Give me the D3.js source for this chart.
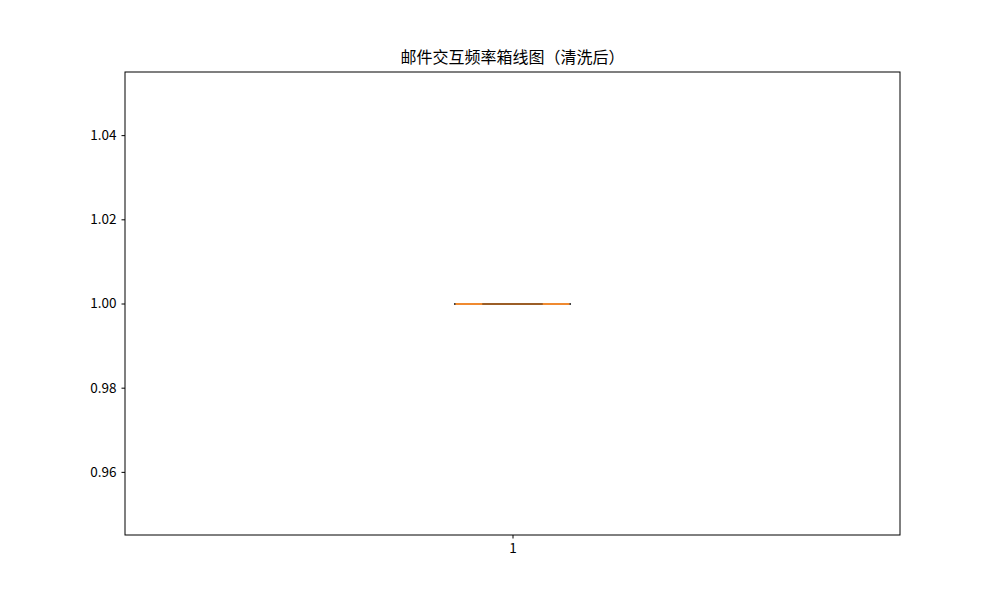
<!DOCTYPE html>
<html><head><meta charset="utf-8">
<script src="https://cdn.jsdelivr.net/npm/d3@7"></script>
<style>body{margin:0;background:#fff;}text{font-family:"Noto Sans CJK SC","DejaVu Sans",sans-serif;}</style>
</head><body><svg id="c" width="1000" height="600"></svg>
<script>
const categories = ["1"];
const q1Values = [1.0];
const medianValues = [1.0];
const q3Values = [1.0];
const whiskerLow = [1.0];
const whiskerHigh = [1.0];
const yTicks = [0.96, 0.98, 1.00, 1.02, 1.04];
const titleText = "邮件交互频率箱线图（清洗后）";

const svg = d3.select("#c");
const L = 125, R = 900, T = 72, B = 535;
const x = d3.scaleLinear().domain([0.5, 1.5]).range([L, R]);
const y = d3.scaleLinear().domain([0.945, 1.055]).range([B, T]);
const boxHalf = 0.039, capHalf = 0.0755;

svg.append("text").attr("x", (L + R) / 2).attr("y", 63).attr("text-anchor", "middle")
  .attr("font-size", 16).attr("fill", "#000").text(titleText);

const yAxis = svg.append("g").attr("transform", `translate(${L},0)`)
  .call(d3.axisLeft(y).tickValues(yTicks).tickFormat(d3.format(".2f")).tickSize(3.5).tickPadding(5));
yAxis.select(".domain").remove();
yAxis.selectAll("text").attr("font-size", 13.5).attr("fill", "#000").style("font-family", '"Noto Sans CJK SC","DejaVu Sans",sans-serif');
yAxis.selectAll("line").attr("stroke", "#000");

const xAxis = svg.append("g").attr("transform", `translate(0,${B})`)
  .call(d3.axisBottom(x).tickValues(categories.map((c, i) => i + 1)).tickFormat((d, i) => categories[i]).tickSize(3.5).tickPadding(5));
xAxis.select(".domain").remove();
xAxis.selectAll("text").attr("font-size", 13.5).attr("fill", "#000").style("font-family", '"Noto Sans CJK SC","DejaVu Sans",sans-serif');
xAxis.selectAll("line").attr("stroke", "#000");

svg.append("rect").attr("x", L).attr("y", T).attr("width", R - L).attr("height", B - T)
  .attr("fill", "none").attr("stroke", "#000").attr("stroke-width", 1);

const g = svg.append("g");
categories.forEach((c, i) => {
  const p = i + 1;
  const ym = Math.round(y(medianValues[i]));
  g.append("line").attr("x1", x(p)).attr("x2", x(p)).attr("y1", y(q1Values[i])).attr("y2", y(whiskerLow[i])).attr("stroke", "#000");
  g.append("line").attr("x1", x(p)).attr("x2", x(p)).attr("y1", y(q3Values[i])).attr("y2", y(whiskerHigh[i])).attr("stroke", "#000");
  // caps (ends visible as dark dots)
  g.append("line").attr("x1", x(p - capHalf)).attr("x2", x(p + capHalf)).attr("y1", ym + 1).attr("y2", ym + 1).attr("stroke", "#444").attr("stroke-width", 2);
  // median
  g.append("line").attr("x1", x(p - capHalf) + 1.5).attr("x2", x(p + capHalf) - 1.5).attr("y1", ym + 1).attr("y2", ym + 1).attr("stroke", "#f08a30").attr("stroke-width", 2);
  // box
  g.append("rect").attr("x", x(p - boxHalf)).attr("width", x(p + boxHalf) - x(p - boxHalf))
    .attr("y", ym).attr("height", Math.max(2, y(q1Values[i]) - y(q3Values[i])))
    .attr("fill", "rgba(70,50,30,0.5)").attr("stroke", "none");
});
</script></body></html>
